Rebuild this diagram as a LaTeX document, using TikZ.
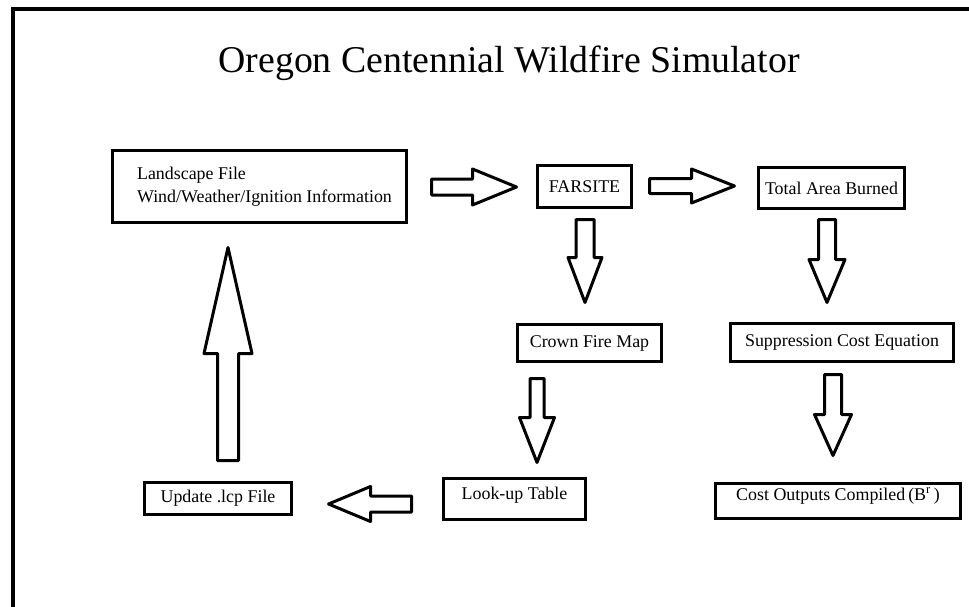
\documentclass[tikz,border=0pt]{standalone}
\usepackage{fontspec}
\setmainfont{Liberation Serif}
\usetikzlibrary{calc}

\tikzset{
  box/.style={draw, line width=3pt, inner sep=0pt, font=\fontsize{17.9}{23}\selectfont},
  blk/.style={draw, line width=3pt, line join=round},
}

% block arrow: #1 start, #2 tip, #3 half shaft, #4 half head, #5 head length
\newcommand{\blockarrow}[5]{%
  \coordinate (bh) at ($(#2)!#5!(#1)$);
  \draw[blk] ($(#1)!#3!90:(#2)$) -- ($(bh)!#3!90:(#2)$) -- ($(bh)!#4!90:(#2)$) -- (#2)
    -- ($(bh)!#4!-90:(#2)$) -- ($(bh)!#3!-90:(#2)$) -- ($(#1)!#3!-90:(#2)$) -- cycle;}

\begin{document}
\begin{tikzpicture}[x=1pt, y=-1pt]
\useasboundingbox (0,0) rectangle (969,607);
\draw[line width=3.5pt] (13,607) -- (13,9) -- (969,9);

\node[font=\fontsize{37.8}{45}\selectfont] (title) at (509,63) {Oregon Centennial Wildfire Simulator};

% boxes
\node[box, minimum width=294, minimum height=71, align=left] (land) at (259.5,186.5) {\hspace*{10pt}Landscape File\\\hspace*{10pt}Wind/Weather/Ignition Information};
\node[box, minimum width=94, minimum height=42] (farsite) at (584.5,186.5) {FARSITE};
\node[box, minimum width=146, minimum height=41] (total) at (831.5,188) {Total Area Burned};
\node[box, minimum width=144, minimum height=37] (crown) at (589.5,343) {Crown Fire Map};
\node[box, minimum width=223, minimum height=38] (supp) at (842,342) {Suppression Cost Equation};
\node[box, minimum width=142, minimum height=41, text depth=12] (lookup) at (514.5,499) {Look-up Table};
\node[box, minimum width=147, minimum height=32] (update) at (218,498.5) {Update .lcp File};
\node[box, minimum width=245, minimum height=35, text depth=14] (cost) at (838,501) {Cost Outputs Compiled\,(B\textsuperscript{r}\,)};

% arrow ends
\coordinate (a1s) at (431.5,187);
\coordinate (a1e) at (516.5,187);
\coordinate (a2s) at (649.5,186);
\coordinate (a2e) at (734.5,186);
\coordinate (a3s) at (585,219.5);
\coordinate (a3e) at (585,302.5);
\coordinate (a4s) at (827,219.5);
\coordinate (a4e) at (827,302.5);
\coordinate (a5s) at (537,378.5);
\coordinate (a5e) at (537,462.5);
\coordinate (a6s) at (833,374.5);
\coordinate (a6e) at (833,455.5);
\coordinate (a7s) at (411.5,504);
\coordinate (a7e) at (328.5,504);
\coordinate (a8s) at (228,460.5);
\coordinate (a8e) at (228,247.5);

\blockarrow{a1s}{a1e}{8pt}{18pt}{44pt}
\blockarrow{a2s}{a2e}{7.5pt}{17pt}{43pt}
\blockarrow{a3s}{a3e}{9pt}{17pt}{45pt}
\blockarrow{a4s}{a4e}{8.5pt}{18pt}{43pt}
\blockarrow{a5s}{a5e}{7pt}{17.5pt}{45pt}
\blockarrow{a6s}{a6e}{8.5pt}{18.5pt}{41pt}
\blockarrow{a7s}{a7e}{8pt}{17.5pt}{42pt}
\blockarrow{a8s}{a8e}{10.5pt}{24pt}{106pt}
\end{tikzpicture}
\end{document}
